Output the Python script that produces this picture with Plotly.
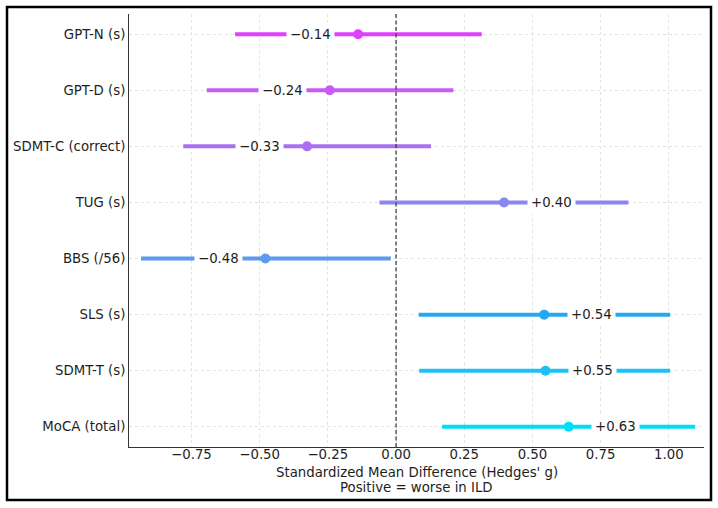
import plotly.graph_objects as go

categories = ["GPT-N (s)", "GPT-D (s)", "SDMT-C (correct)", "TUG (s)",
              "BBS (/56)", "SLS (s)", "SDMT-T (s)", "MoCA (total)"]
effect = [-0.139, -0.243, -0.326, 0.396, -0.479, 0.543, 0.548, 0.633]
ci_low = [-0.590, -0.694, -0.780, -0.061, -0.935, 0.083, 0.085, 0.169]
ci_high = [0.314, 0.210, 0.128, 0.852, -0.019, 1.005, 1.005, 1.096]
colors = ["#E040FB", "#C95BF6", "#AA70F2", "#8888F0",
          "#5A9AF0", "#26A8EE", "#1CC2F5", "#00DDF8"]
x_ticks = [-0.75, -0.50, -0.25, 0.00, 0.25, 0.50, 0.75, 1.00]
x_title = ["Standardized Mean Difference (Hedges' g)", "Positive = worse in ILD"]

TEXT = "#1e1e1e"
FONT = "DejaVu Sans"
FS = 13.3


def fmt_tick(v):
    s = f"{v:.2f}"
    return s.replace("-", "\u2212")


def fmt_label(v):
    s = f"{v:+.2f}"
    return s.replace("-", "\u2212")


fig = go.Figure()
for cat, e, lo, hi, c in zip(categories, effect, ci_low, ci_high, colors):
    fig.add_trace(go.Scatter(x=[lo, hi], y=[cat, cat], mode="lines",
                             line=dict(color=c, width=4), showlegend=False,
                             hoverinfo="skip"))
    fig.add_trace(go.Scatter(x=[e], y=[cat], mode="markers",
                             marker=dict(color=c, size=10), showlegend=False))
    fig.add_annotation(x=e + (0.083 if e > 0 else -0.083), y=cat,
                       xanchor="left" if e > 0 else "right",
                       text=fmt_label(e), showarrow=False,
                       bgcolor="white", borderpad=3,
                       font=dict(family=FONT, size=FS, color=TEXT))

L, R, T, B = 129, 704, 14, 447
W, H = 718, 508
PH = B - T

# axis title lines
for i, line in enumerate(x_title):
    fig.add_annotation(xref="paper", yref="paper", x=0.5,
                       y=(B - (472 + 15 * i)) / PH, yanchor="middle",
                       xanchor="center", text=line, showarrow=False,
                       font=dict(family=FONT, size=FS, color=TEXT))

# zero reference line
fig.add_shape(type="line", xref="x", yref="paper", x0=0, x1=0, y0=0, y1=1,
              line=dict(color="#333333", width=1.2, dash="4px,2.5px"))

# outer figure border
fig.add_shape(type="rect", xref="paper", yref="paper",
              x0=(7 - L) / (R - L), x1=(711 - L) / (R - L),
              y0=(B - 500) / PH, y1=(B - 7) / PH,
              line=dict(color="black", width=2.5))

fig.update_layout(
    width=W, height=H,
    margin=dict(l=L, r=W - R, t=T, b=H - B, autoexpand=False),
    plot_bgcolor="white", paper_bgcolor="white",
    font=dict(family=FONT, size=FS, color=TEXT),
    xaxis=dict(range=[-0.979, 1.129], tickvals=x_ticks,
               ticktext=[fmt_tick(v) for v in x_ticks], automargin=False,
               showgrid=True, gridcolor="#e3e3e3", griddash="dot",
               zeroline=False, showline=True, linecolor="#333333", linewidth=1,
               ticks="", ticklabelstandoff=-5,
               tickfont=dict(size=FS, color=TEXT)),
    yaxis=dict(type="category", categoryorder="array", categoryarray=categories,
               range=[7.36, -0.36], showgrid=True, gridcolor="#e3e3e3",
               griddash="dot", zeroline=False, showline=True, automargin=False,
               linecolor="#333333", linewidth=1, ticks="",
               tickfont=dict(size=FS, color=TEXT)),
)

fig.write_html("out.html")
